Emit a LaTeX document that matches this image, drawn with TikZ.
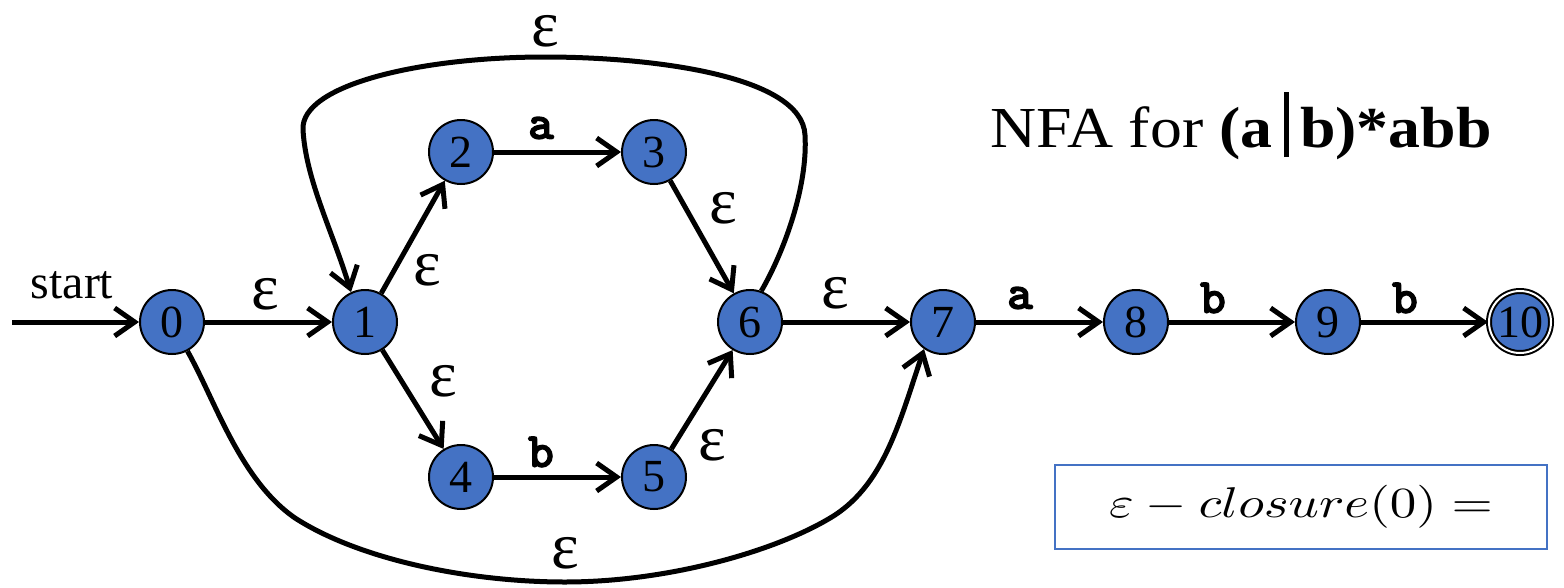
\documentclass[tikz,border=0pt]{standalone}
\usepackage{fontspec}
\setmainfont{Liberation Serif}
\newfontfamily\symfont[FakeBold=4]{lmmono10-regular.otf}
\usetikzlibrary{arrows.meta}
\definecolor{nodeblue}{HTML}{4472C4}
\tikzset{
  st/.style={circle, draw=black, line width=2pt, fill=nodeblue, minimum size=64pt, inner sep=0pt, font=\fontsize{46}{46}\selectfont},
  acc/.style={st, double=white, double distance=2pt, minimum size=62pt},
  edge/.style={line width=5pt, -{Straight Barb[length=20pt, width=28pt, line width=5pt]}},
  eps/.style={inner sep=0pt, text height=0.5em, text depth=0pt, anchor=base, font=\fontsize{66}{66}\selectfont},
  sym/.style={font=\symfont\fontsize{48}{48}\selectfont}
}
\begin{document}
\begin{tikzpicture}[x=1pt,y=-1pt]
\useasboundingbox (0,0) rectangle (1564,587);
\node[st] (n0) at (172,322) {0};
\node[st] (n1) at (365,322) {1};
\node[st] (n2) at (461,152) {2};
\node[st] (n3) at (654,152) {3};
\node[st] (n4) at (461,477) {4};
\node[st] (n5) at (654,477) {5};
\node[st] (n6) at (750,322) {6};
\node[st] (n7) at (943,322) {7};
\node[st] (n8) at (1136,322) {8};
\node[st] (n9) at (1328,322) {9};
\node[acc] (n10) at (1520,322) {10};
\coordinate (s) at (12,322);
\draw[edge] (s) -- (n0);
\node[font=\fontsize{48}{48}\selectfont] (lstart) at (72,285) {start};
\draw[edge] (n0) -- (n1);
\draw[edge] (n1) -- (n2);
\draw[edge] (n1) -- (n4);
\draw[edge] (n2) -- (n3);
\draw[edge] (n4) -- (n5);
\draw[edge] (n3) -- (n6);
\draw[edge] (n5) -- (n6);
\draw[edge] (n6) -- (n7);
\draw[edge] (n7) -- (n8);
\draw[edge] (n8) -- (n9);
\draw[edge] (n9) -- (n10);
\draw[edge] (n6.70) .. controls (785,250) and (808,185) .. (805,135)
  .. controls (802,75) and (650,57) .. (545,57)
  .. controls (420,57) and (300,85) .. (303,130)
  .. controls (306,180) and (332,230) .. (n1.115);
\draw[edge] (n0.-62) .. controls (215,400) and (240,480) .. (295,518)
  .. controls (360,560) and (470,582) .. (565,582)
  .. controls (670,582) and (780,550) .. (835,515)
  .. controls (885,482) and (900,420) .. (n7.-125);
\node[eps] (e01) at (265,309) {ε};
\node[eps] (e12) at (427,285) {ε};
\node[eps] (e14) at (443,396) {ε};
\node[eps] (e36) at (723,223) {ε};
\node[eps] (e56) at (712,460) {ε};
\node[eps] (e67) at (835,308) {ε};
\node[eps] (etop) at (545,46) {ε};
\node[eps] (ebot) at (565,568) {ε};
\node[sym] (a23) at (541,128) {a};
\node[sym] (b45) at (541,452) {b};
\node[sym] (a78) at (1020,298) {a};
\node[sym] (b89) at (1213,298) {b};
\node[sym] (b910) at (1405,298) {b};
\node[anchor=base west, inner sep=0pt] (title) at (990,147) {\scalebox{1.1}[1]{\fontsize{58}{58}\selectfont NFA for \textbf{(a}\hspace{10pt}\rule[-10pt]{5pt}{65pt}\hspace{10pt}\textbf{b)*abb}}};
\node[draw=nodeblue, line width=1.3pt, minimum width=492pt, minimum height=84pt, inner sep=0pt] (box) at (1301,507) {\scalebox{5.3}[4.3]{$\varepsilon - closure(0) =$}};
\end{tikzpicture}
\end{document}
